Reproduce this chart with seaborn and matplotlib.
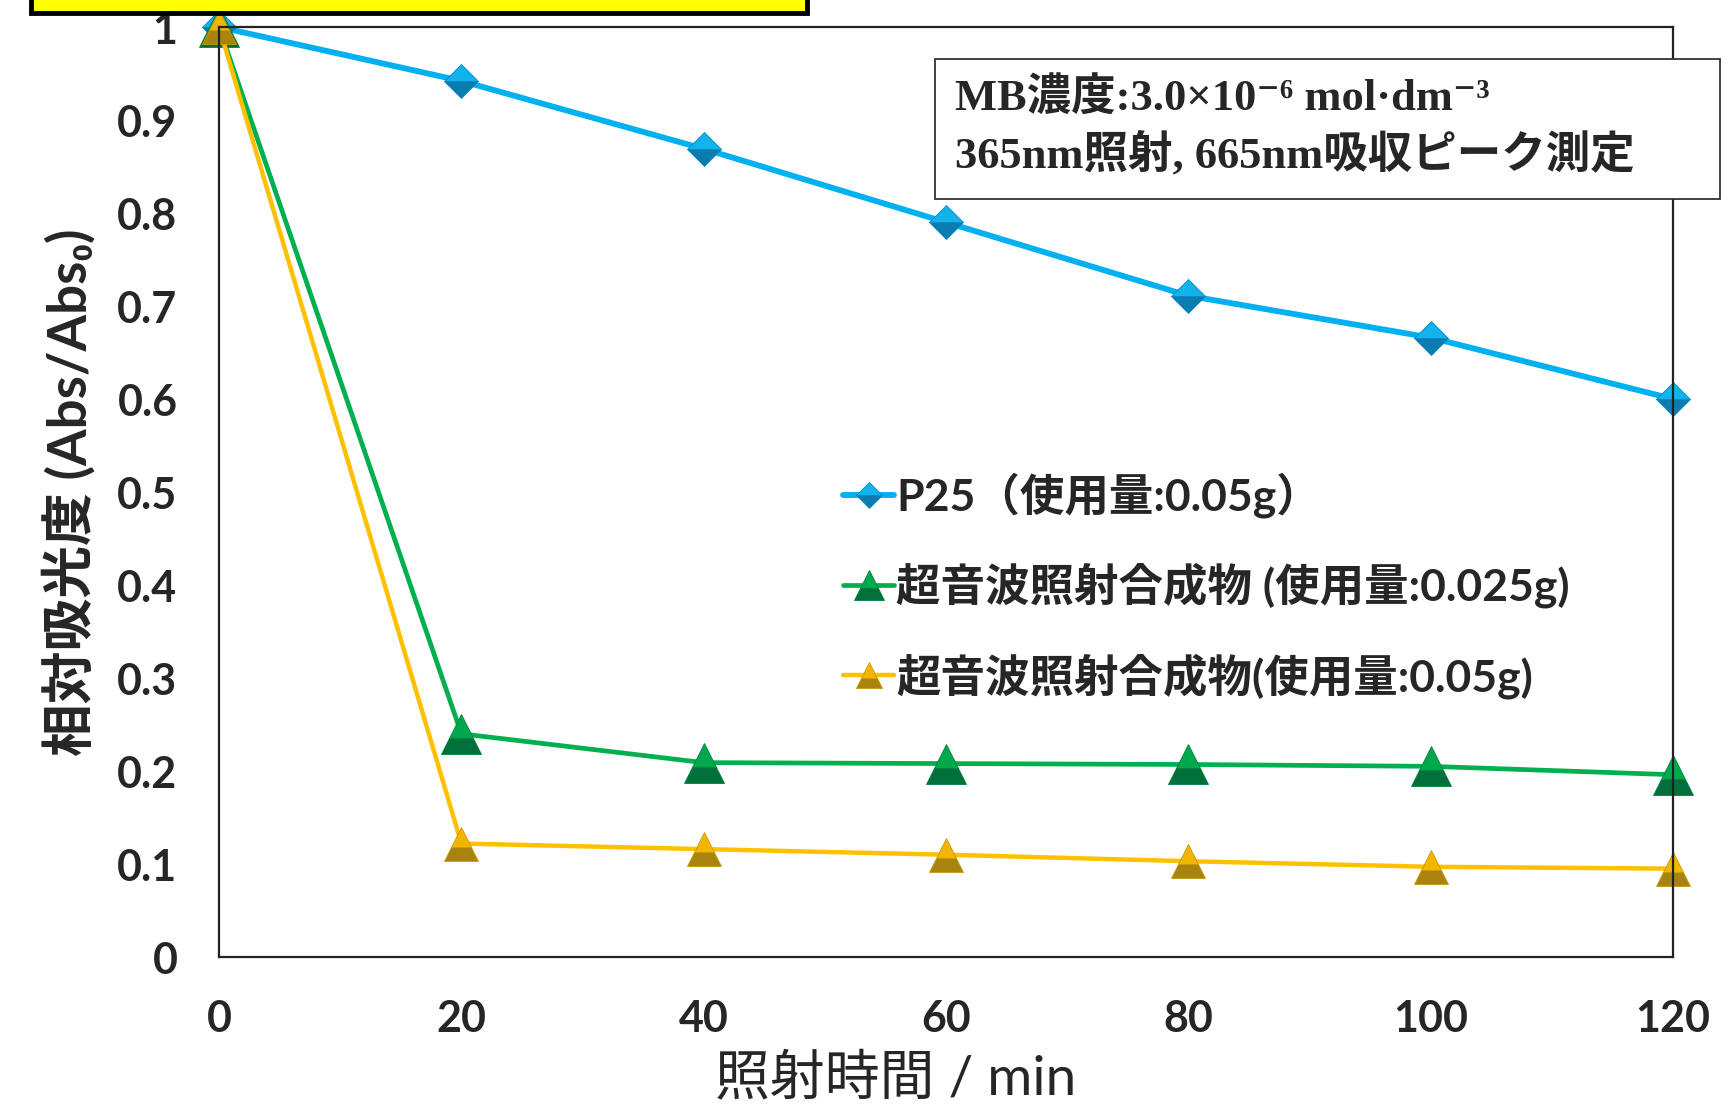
import matplotlib
matplotlib.use("Agg")
import matplotlib.pyplot as plt
import matplotlib.patches as patches
import seaborn as sns

sns.set_style("white")
plt.rcParams["font.family"] = ["Lato", "Noto Sans CJK JP", "DejaVu Sans"]

times = [0, 20, 40, 60, 80, 100, 120]
p25 = [1.0, 0.942, 0.869, 0.790, 0.711, 0.666, 0.600]
sono_0025 = [1.0, 0.240, 0.209, 0.208, 0.207, 0.205, 0.196]
sono_005 = [1.0, 0.122, 0.116, 0.110, 0.103, 0.097, 0.095]
labels = ["P25（使用量:0.05g）",
          "超音波照射合成物 (使用量:0.025g)",
          "超音波照射合成物(使用量:0.05g)"]
note_lines = ["MB濃度:3.0×10⁻⁶ mol·dm⁻³",
              "365nm照射, 665nm吸収ピーク測定"]

fig = plt.figure(figsize=(17.33, 11.07), dpi=100)
ax = fig.add_axes([0.1264, 0.1355, 0.839, 0.8401])

# blue diamonds
sns.lineplot(x=times, y=p25, ax=ax, label=labels[0], color="#00B0F0",
             linewidth=4.2, marker="D", markersize=17.5, fillstyle="bottom",
             markerfacecolor="#0A7CB0", markerfacecoloralt="#12B2EC",
             markeredgecolor="#0A88C0", markeredgewidth=0.6, clip_on=False)
# green triangles
sns.lineplot(x=times, y=sono_0025, ax=ax, label=labels[1], color="#00B050",
             linewidth=3.4, marker="^", markersize=29, fillstyle="bottom",
             markerfacecolor="#00703A", markerfacecoloralt="#00A84C",
             markeredgecolor="#00803F", markeredgewidth=0.6, clip_on=False)
# yellow triangles
sns.lineplot(x=times, y=sono_005, ax=ax, label=labels[2], color="#FFC000",
             linewidth=3.2, marker="^", markersize=25, fillstyle="bottom",
             markerfacecolor="#A8840F", markerfacecoloralt="#F2B600",
             markeredgecolor="#C89A08", markeredgewidth=0.6, clip_on=False)

ax.set_xlim(0, 120)
ax.set_ylim(0, 1)
ax.set_xticks(times)
ax.set_yticks([0, 0.1, 0.2, 0.3, 0.4, 0.5, 0.6, 0.7, 0.8, 0.9, 1.0])
ax.set_yticklabels(["0", "0.1", "0.2", "0.3", "0.4", "0.5", "0.6", "0.7", "0.8", "0.9", "1"])
ax.tick_params(axis="both", direction="in", length=9.5, width=1.2, color="#777777",
               labelsize=31)
ax.tick_params(axis="x", pad=30)
ax.tick_params(axis="y", pad=30)
for lab in ax.get_xticklabels() + ax.get_yticklabels():
    lab.set_fontweight("bold")
for sp in ax.spines.values():
    sp.set_linewidth(1.6)
    sp.set_color("#222222")
    sp.set_visible(True)

ax.set_xlabel("照射時間 / min", fontsize=39.5)
ax.xaxis.set_label_coords(0.465, -0.103)
ax.set_ylabel("相対吸光度 (Abs/Abs₀)", fontsize=38, fontweight="bold")
ax.yaxis.set_label_coords(-0.085, 0.5)

leg = ax.legend(loc="upper left", bbox_to_anchor=(0.417, 0.54), frameon=False,
                fontsize=32, handlelength=1.15, handletextpad=0.05, labelspacing=1.0,
                borderaxespad=0)
for t in leg.get_texts():
    t.set_fontweight("bold")
for h in leg.legend_handles:
    h.set_markersize(h.get_markersize() * 0.75)

# yellow title box cut off at the top
fig.add_artist(patches.Rectangle((0.0179, 0.988), 0.448, 0.05, transform=fig.transFigure,
                                 facecolor="#FFFF00", edgecolor="black", linewidth=3.5,
                                 clip_on=False))
# condition box
fig.add_artist(patches.Rectangle((0.5395, 0.8202), 0.453, 0.1265, transform=fig.transFigure,
                                 facecolor="white", edgecolor="#333333", linewidth=1.3))
serif = ["Liberation Serif", "Noto Sans CJK JP", "DejaVu Serif"]
fig.text(955 / 1733, 1 - 99 / 1107, note_lines[0], family=serif, fontsize=32,
         fontweight="bold", va="center", ha="left")
fig.text(955 / 1733, 1 - 155 / 1107, note_lines[1], family=serif, fontsize=32,
         fontweight="bold", va="center", ha="left")

fig.savefig("out.png", dpi=100)
